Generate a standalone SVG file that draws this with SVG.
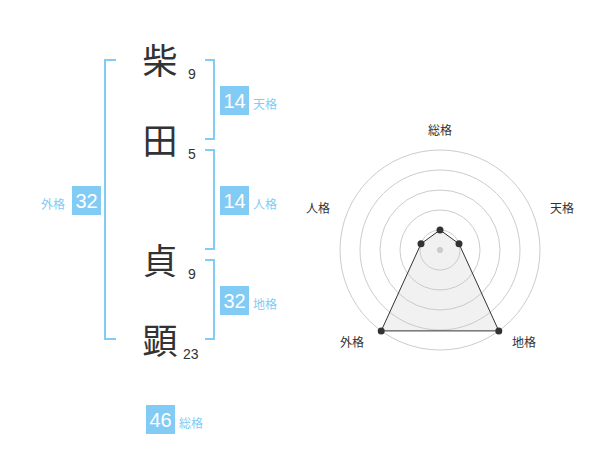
<svg xmlns="http://www.w3.org/2000/svg" width="600" height="470" viewBox="0 0 600 470">
<style>
.k{font-family:"Noto Sans CJK JP","Noto Sans CJK SC",sans-serif;font-size:35px;fill:#333;text-anchor:middle}
.n{font-family:"Liberation Sans",Arial,sans-serif;font-size:14px;fill:#333}
.br{fill:none;stroke:#82cbf5;stroke-width:2}
.bx{fill:#82cbf5}
.bt{font-family:"Liberation Sans",Arial,sans-serif;font-size:20px;fill:#fff;text-anchor:middle}
.bl{font-family:"Noto Sans CJK JP",sans-serif;font-size:12px;fill:#82cbf5}
.ring{fill:none;stroke:#ccc;stroke-width:1}
.rl{font-family:"Noto Sans CJK JP",sans-serif;font-size:12px;fill:#333;text-anchor:middle}
</style>
<rect width="600" height="470" fill="#fff"/>
<g id="connectors">
<path class="br" d="M116,60 H105 V339 H116"/>
<path class="br" d="M205,60 H214 V139 H205"/>
<path class="br" d="M205,150 H214 V249 H205"/>
<path class="br" d="M205,260 H214 V339 H205"/>
</g>
<g id="char1"><text class="k" x="160" y="74">柴</text><text class="n" x="188" y="79">9</text></g>
<g id="char2"><text class="k" x="160" y="154">田</text><text class="n" x="188" y="159">5</text></g>
<g id="char3"><text class="k" x="160" y="274">貞</text><text class="n" x="188" y="279">9</text></g>
<g id="char4"><text class="k" x="160" y="354">顕</text><text class="n" x="183" y="359">23</text></g>
<g id="tenkaku"><rect class="bx" x="220" y="86" width="29" height="29"/><text class="bt" x="234.5" y="108">14</text><text class="bl" x="253" y="109">天格</text></g>
<g id="jinkaku"><rect class="bx" x="220" y="186" width="29" height="29"/><text class="bt" x="234.5" y="208">14</text><text class="bl" x="253" y="209">人格</text></g>
<g id="chikaku"><rect class="bx" x="220" y="286" width="29" height="29"/><text class="bt" x="234.5" y="308">32</text><text class="bl" x="253" y="309">地格</text></g>
<g id="gaikaku"><rect class="bx" x="72" y="186" width="29" height="29"/><text class="bt" x="86.5" y="208">32</text><text class="bl" x="41" y="209">外格</text></g>
<g id="soukaku"><rect class="bx" x="146" y="405" width="29" height="29"/><text class="bt" x="160.5" y="427">46</text><text class="bl" x="179" y="428">総格</text></g>
<g id="radar">
<circle class="ring" cx="440" cy="250" r="20"/>
<circle class="ring" cx="440" cy="250" r="40"/>
<circle class="ring" cx="440" cy="250" r="60"/>
<circle class="ring" cx="440" cy="250" r="80"/>
<circle class="ring" cx="440" cy="250" r="100"/>
<circle cx="440" cy="250" r="3" fill="#ccc"/>
<polygon points="440,230 459,243.8 498.8,330.9 381.2,330.9 421,243.8" fill="rgba(200,200,200,0.25)" stroke="#333" stroke-width="1"/>
<g fill="#333">
<circle cx="440" cy="230" r="3.5"/>
<circle cx="459" cy="243.8" r="3.5"/>
<circle cx="498.8" cy="330.9" r="3.5"/>
<circle cx="381.2" cy="330.9" r="3.5"/>
<circle cx="421" cy="243.8" r="3.5"/>
</g>
<text class="rl" x="440" y="135">総格</text>
<text class="rl" x="562" y="213">天格</text>
<text class="rl" x="318" y="213">人格</text>
<text class="rl" x="352" y="347">外格</text>
<text class="rl" x="524" y="347">地格</text>
</g>
</svg>
